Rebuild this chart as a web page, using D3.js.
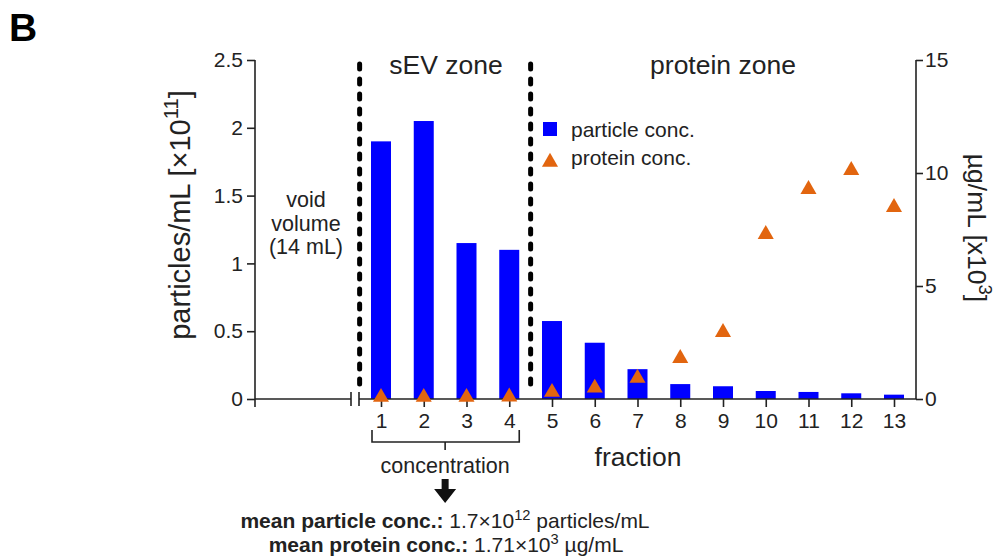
<!DOCTYPE html>
<html>
<head>
<meta charset="utf-8">
<script src="https://cdn.jsdelivr.net/npm/d3@7/dist/d3.min.js"></script>
<style>
  body { margin: 0; background: #fff; }
  svg { font-family: Arial, "Liberation Sans", sans-serif; }
  .tick text { font-size: 21px; fill: #222; }
  .tick line, .axis-line { stroke: #222; stroke-width: 1.6; }
</style>
</head>
<body>
<div id="chart"></div>
<script>
// fractions collected after the void volume
const fractions = [1, 2, 3, 4, 5, 6, 7, 8, 9, 10, 11, 12, 13];
// particles/mL (x10^11)
const particleConc = [1.9, 2.05, 1.15, 1.1, 0.575, 0.415, 0.22, 0.11, 0.094, 0.059, 0.052, 0.042, 0.032];
// protein ug/mL (x10^3)
const proteinConc = [0.08, 0.08, 0.08, 0.1, 0.3, 0.49, 0.93, 1.8, 2.95, 7.29, 9.28, 10.12, 8.48];
const leftTicks = [0, 0.5, 1, 1.5, 2, 2.5];
const rightTicks = [0, 5, 10, 15];

const blue = "#0000ff";
const orange = "#e2650f";
const W = 998, H = 560;

const svg = d3.select("#chart").append("svg")
  .attr("width", W).attr("height", H);

// Scales
const x = d3.scaleLinear().domain([1, 13]).range([381, 894]);
const yL = d3.scaleLinear().domain([0, 2.5]).range([399, 60]);
const yR = d3.scaleLinear().domain([0, 15]).range([399, 60]);
const leftX = 255, rightX = 916;
const breakA = 351, breakB = 359;

// text with a superscript part: parts = [[text, isSup, bold], ...]
function richText(sel, fs, parts) {
  let raised = false;
  parts.forEach(([t, sup, bold]) => {
    const ts = sel.append("tspan").text(t);
    if (bold) ts.attr("font-weight", "bold");
    if (sup && !raised) { ts.attr("dy", -0.4 * fs).attr("font-size", fs * 0.7); raised = true; }
    else if (sup) ts.attr("font-size", fs * 0.7);
    else if (raised) { ts.attr("dy", 0.4 * fs); raised = false; }
  });
}

// Panel letter
svg.append("text").attr("x", 9).attr("y", 41)
  .attr("font-size", 39).attr("font-weight", "bold").text("B");

// Bars
svg.append("g").selectAll("rect")
  .data(fractions)
  .join("rect")
  .attr("x", (d) => x(d) - 10)
  .attr("width", 20)
  .attr("y", (d, i) => yL(particleConc[i]))
  .attr("height", (d, i) => yL(0) - yL(particleConc[i]))
  .attr("fill", blue);

// Left axis
const gL = svg.append("g").attr("transform", `translate(${leftX},0)`)
  .call(d3.axisLeft(yL).tickValues(leftTicks).tickSize(8).tickPadding(4).tickSizeOuter(0)
    .tickFormat(d3.format("")));
gL.select(".domain").remove();
gL.append("line").attr("class", "axis-line").attr("y1", yL(2.5)).attr("y2", yL(0));

// Right axis
const gR = svg.append("g").attr("transform", `translate(${rightX},0)`)
  .call(d3.axisRight(yR).tickValues(rightTicks).tickSize(7).tickPadding(2).tickSizeOuter(0));
gR.select(".domain").remove();
gR.append("line").attr("class", "axis-line").attr("y1", yR(15)).attr("y2", yR(0));

// X axis with break
const gX = svg.append("g").attr("transform", `translate(0,${yL(0)})`)
  .call(d3.axisBottom(x).tickValues(fractions).tickSize(8).tickPadding(6).tickSizeOuter(0));
gX.select(".domain").remove();
gX.append("line").attr("class", "axis-line").attr("x1", leftX).attr("x2", breakA);
gX.append("line").attr("class", "axis-line").attr("x1", breakB).attr("x2", rightX);
gX.append("line").attr("class", "axis-line").attr("x1", leftX).attr("x2", leftX).attr("y1", 0).attr("y2", 8);
[breakA, breakB].forEach((bx) => {
  gX.append("line").attr("class", "axis-line")
    .attr("x1", bx).attr("x2", bx).attr("y1", -7).attr("y2", 7);
});

// Zone dividers
[0.5, 4.5].forEach((f) => {
  svg.append("line")
    .attr("x1", x(f)).attr("x2", x(f)).attr("y1", 64).attr("y2", 392)
    .attr("stroke", "#000").attr("stroke-width", 5)
    .attr("stroke-linecap", "round").attr("stroke-dasharray", "5,10");
});

// Protein triangles
const tri = d3.symbol().type(d3.symbolTriangle).size(112);
svg.append("g").selectAll("path")
  .data(fractions)
  .join("path")
  .attr("d", tri)
  .attr("transform", (d, i) => `translate(${x(d)},${yR(proteinConc[i])})`)
  .attr("fill", orange);

// Zone labels
svg.append("text").attr("x", 446).attr("y", 74)
  .attr("text-anchor", "middle").attr("font-size", 26.5).attr("fill", "#222").text("sEV zone");
svg.append("text").attr("x", 723).attr("y", 74)
  .attr("text-anchor", "middle").attr("font-size", 26.5).attr("fill", "#222").text("protein zone");

// Void volume note
["void", "volume", "(14 mL)"].forEach((t, i) => {
  svg.append("text").attr("x", 306).attr("y", 207 + i * 23.5)
    .attr("text-anchor", "middle").attr("font-size", 21.5).attr("fill", "#222").text(t);
});

// Legend
svg.append("rect").attr("x", 543).attr("y", 122).attr("width", 14).attr("height", 14).attr("fill", blue);
svg.append("path").attr("d", tri).attr("transform", "translate(550,162)").attr("fill", orange);
svg.append("text").attr("x", 571).attr("y", 137).attr("font-size", 21).attr("fill", "#222").text("particle conc.");
svg.append("text").attr("x", 571).attr("y", 165).attr("font-size", 21).attr("fill", "#222").text("protein conc.");

// Axis titles
const tL = svg.append("text")
  .attr("transform", "translate(190,215) rotate(-90)")
  .attr("text-anchor", "middle").attr("font-size", 29).attr("fill", "#222");
richText(tL, 29, [["particles/mL [×10"], ["11", true], ["]"]]);

const tR = svg.append("text")
  .attr("transform", "translate(968,228) rotate(90)")
  .attr("text-anchor", "middle").attr("font-size", 26.5).attr("fill", "#222");
richText(tR, 26.5, [["µg/mL [x10"], ["3", true], ["]"]]);

svg.append("text").attr("x", 638).attr("y", 466)
  .attr("text-anchor", "middle").attr("font-size", 26.5).attr("fill", "#222").text("fraction");

// Concentration bracket
const bx1 = x(1) - 9, bx2 = x(4) + 10, bmid = (x(2) + x(3)) / 2;
svg.append("path")
  .attr("d", `M${bx1},430V442H${bx2}V430M${bmid},442V450`)
  .attr("fill", "none").attr("stroke", "#222").attr("stroke-width", 1.6);
svg.append("text").attr("x", bmid).attr("y", 473)
  .attr("text-anchor", "middle").attr("font-size", 21.5).attr("fill", "#222").text("concentration");

// Arrow
svg.append("path")
  .attr("d", `M${bmid - 3.5},479H${bmid + 3.5}V489H${bmid + 11}L${bmid},503L${bmid - 11},489H${bmid - 3.5}Z`)
  .attr("fill", "#111");

// Summary lines
const s1 = svg.append("text").attr("x", 445).attr("y", 528)
  .attr("text-anchor", "middle").attr("font-size", 21).attr("fill", "#222");
richText(s1, 21, [["mean particle conc.:", false, true], [" 1.7×10"], ["12", true], [" particles/mL"]]);

const s2 = svg.append("text").attr("x", 446).attr("y", 552)
  .attr("text-anchor", "middle").attr("font-size", 21).attr("fill", "#222");
richText(s2, 21, [["mean protein conc.:", false, true], [" 1.71×10"], ["3", true], [" µg/mL"]]);
</script>
</body>
</html>
